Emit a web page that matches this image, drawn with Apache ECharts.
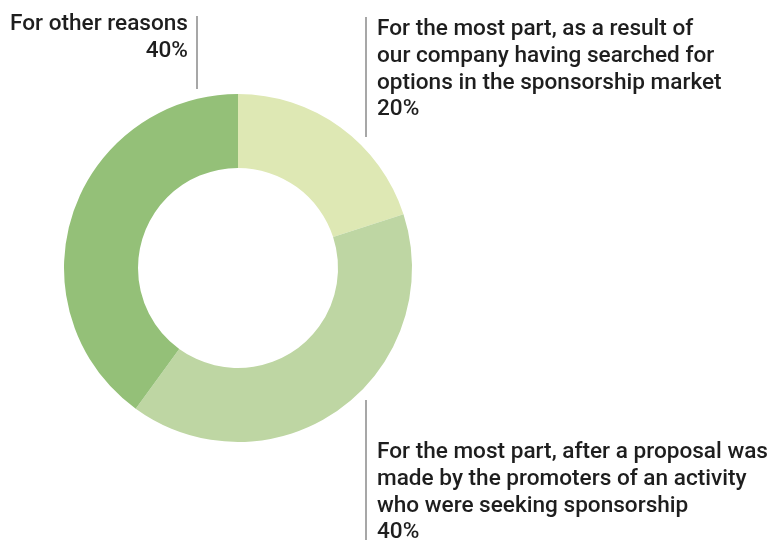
<!DOCTYPE html>
<html>
<head>
<meta charset="utf-8">
<script src="https://cdn.jsdelivr.net/npm/echarts@6/dist/echarts.min.js"></script>
<style>
  html, body { margin: 0; padding: 0; background: #ffffff; }
  #chart { width: 774px; height: 540px; }
</style>
</head>
<body>
<div id="chart"></div>
<script>
// Reasons a sponsorship came about (share of responses, %)
const categories = [
  'For the most part, as a result of\nour company having searched for\noptions in the sponsorship market',
  'For the most part, after a proposal was\nmade by the promoters of an activity\nwho were seeking sponsorship',
  'For other reasons'
];
const shares = [20, 40, 40];
const sliceColors = ['#dee8b4', '#bed6a3', '#94c078'];

// Where each label block sits and the separator line beside it
const labelSpots = [
  { x: 377, y: 16, align: 'left', line: [[366, 17], [366, 77], [366, 137]] },
  { x: 377, y: 439, align: 'left', line: [[366, 400], [366, 470], [366, 540]] },
  { x: 188, y: 11, align: 'right', line: [[197, 16], [197, 52], [197, 89]] }
];

const chart = echarts.init(document.getElementById('chart'), null, { renderer: 'canvas' });

chart.setOption({
  animation: false,
  series: [{
    type: 'pie',
    center: [238, 268],
    radius: [100, 174],
    startAngle: 90,
    clockwise: true,
    avoidLabelOverlap: false,
    data: categories.map((name, i) => ({
      name: name,
      value: shares[i],
      itemStyle: { color: sliceColors[i] }
    })),
    label: {
      show: true,
      formatter: '{b}\n{c}%',
      fontFamily: 'Roboto',
      fontSize: 22.6,
      fontWeight: 500,
      lineHeight: 26.8,
      color: '#1e1e1e'
    },
    labelLine: {
      show: true,
      lineStyle: { color: '#8a8a8a', width: 1.5 }
    },
    labelLayout: function (params) {
      const s = labelSpots[params.dataIndex];
      return {
        x: s.x,
        y: s.y,
        align: s.align,
        verticalAlign: 'top',
        labelLinePoints: s.line
      };
    },
    emphasis: { disabled: true }
  }]
});
</script>
</body>
</html>
